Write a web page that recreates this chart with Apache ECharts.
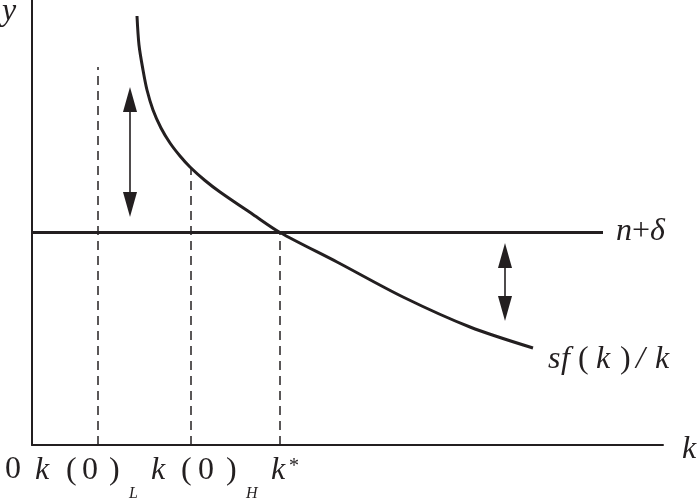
<!DOCTYPE html>
<html>
<head>
<meta charset="utf-8">
<script src="https://cdn.jsdelivr.net/npm/echarts@6/dist/echarts.min.js"></script>
<style>html,body{margin:0;padding:0;background:#fff;}#c{width:699px;height:500px;}</style>
</head>
<body>
<div id="c"></div>
<script>
// Data (abstract units)
const curveK = [2.10, 2.14, 2.22, 2.30, 2.42, 2.58, 2.76, 2.96, 3.16, 3.46, 3.76, 4.42, 4.96, 6.10, 7.42, 8.76, 10.02];
const curveY = [8.58, 8.00, 7.50, 7.10, 6.70, 6.34, 6.04, 5.78, 5.56, 5.29, 5.06, 4.61, 4.25, 3.66, 2.96, 2.36, 1.94];
const nDelta = 4.25;
const nDeltaEnd = 11.42;
const dashK = [1.32, 3.18, 4.96];      // k(0)_L, k(0)_H, k*
const dashTop = [7.56, 5.54, 4.25];
const arrowK = [1.96, 9.46];
const arrowTop = [7.16, 4.04];
const arrowBottom = [4.56, 2.48];
const xMax = 12.62, yMax = 8.9;

const INK = '#231f20';
const serif = 'Liberation Serif';

const series = [];
series.push({
  type: 'line', silent: true, symbol: 'none', smooth: 0.3,
  lineStyle: { color: INK, width: 3 },
  data: curveK.map((k, i) => [k, curveY[i]])
});
series.push({
  type: 'line', silent: true, symbol: 'none',
  lineStyle: { color: INK, width: 3 },
  data: [[0, nDelta], [nDeltaEnd, nDelta]]
});
dashK.forEach((k, i) => {
  series.push({
    type: 'line', silent: true, symbol: 'none',
    lineStyle: { color: INK, width: 1.5, type: [9, 6] },
    data: [[k, 0], [k, dashTop[i]]]
  });
});
series.push({
  type: 'custom', silent: true,
  data: arrowK.map((k, i) => [k, arrowTop[i], arrowBottom[i]]),
  renderItem: function (params, api) {
    const t = api.coord([api.value(0), api.value(1)]);
    const b = api.coord([api.value(0), api.value(2)]);
    const hl = 25, hw = 7;
    return {
      type: 'group',
      children: [
        { type: 'line', shape: { x1: t[0], y1: t[1] + hl - 2, x2: b[0], y2: b[1] - hl + 2 }, style: { stroke: INK, lineWidth: 1.6 } },
        { type: 'polygon', shape: { points: [[t[0], t[1]], [t[0] - hw, t[1] + hl], [t[0] + hw, t[1] + hl]] }, style: { fill: INK } },
        { type: 'polygon', shape: { points: [[b[0], b[1]], [b[0] - hw, b[1] - hl], [b[0] + hw, b[1] - hl]] }, style: { fill: INK } }
      ]
    };
  }
});

function txt(x, y, s, size, italic) {
  return { type: 'text', x: x, y: y, silent: true,
    style: { text: s, fill: INK, fontFamily: serif, fontSize: size, fontStyle: italic ? 'italic' : 'normal',
      verticalAlign: 'middle', align: 'left' } };
}

const labels = [
  txt(2, 12, 'y', 32, true),
  txt(5, 470, '0', 32, false),
  txt(35, 471, 'k', 32, true), txt(66, 471, '(', 32, false), txt(82, 471, '0', 32, false), txt(109, 471, ')', 32, false),
  txt(129, 494, 'L', 16, true),
  txt(151, 471, 'k', 32, true), txt(181, 471, '(', 32, false), txt(198, 471, '0', 32, false), txt(226, 471, ')', 32, false),
  txt(246, 494, 'H', 16, true),
  txt(271, 471, 'k', 32, true), txt(289, 467, '*', 20, false),
  txt(682, 450, 'k', 32, true),
  txt(616, 232, 'n', 32, true), txt(632, 232, '+', 32, false), txt(650, 232, 'δ', 32, true),
  txt(548, 360, 's', 32, true), txt(561, 360, 'f', 32, true), txt(578, 360, '(', 32, false), txt(596, 360, 'k', 32, true),
  txt(620, 360, ')', 32, false), txt(636, 360, '/', 32, true), txt(655, 360, 'k', 32, true)
];

const chart = echarts.init(document.getElementById('c'), null, { renderer: 'canvas' });
chart.setOption({
  animation: false,
  backgroundColor: '#fff',
  grid: { left: 32, right: 36, top: 0, bottom: 55, containLabel: false },
  xAxis: { type: 'value', min: 0, max: xMax,
    axisLine: { show: true, lineStyle: { color: INK, width: 2 } },
    axisTick: { show: false }, axisLabel: { show: false }, splitLine: { show: false } },
  yAxis: { type: 'value', min: 0, max: yMax,
    axisLine: { show: true, onZero: false, lineStyle: { color: INK, width: 2 } },
    axisTick: { show: false }, axisLabel: { show: false }, splitLine: { show: false } },
  series: series,
  graphic: labels
});
</script>
</body>
</html>
